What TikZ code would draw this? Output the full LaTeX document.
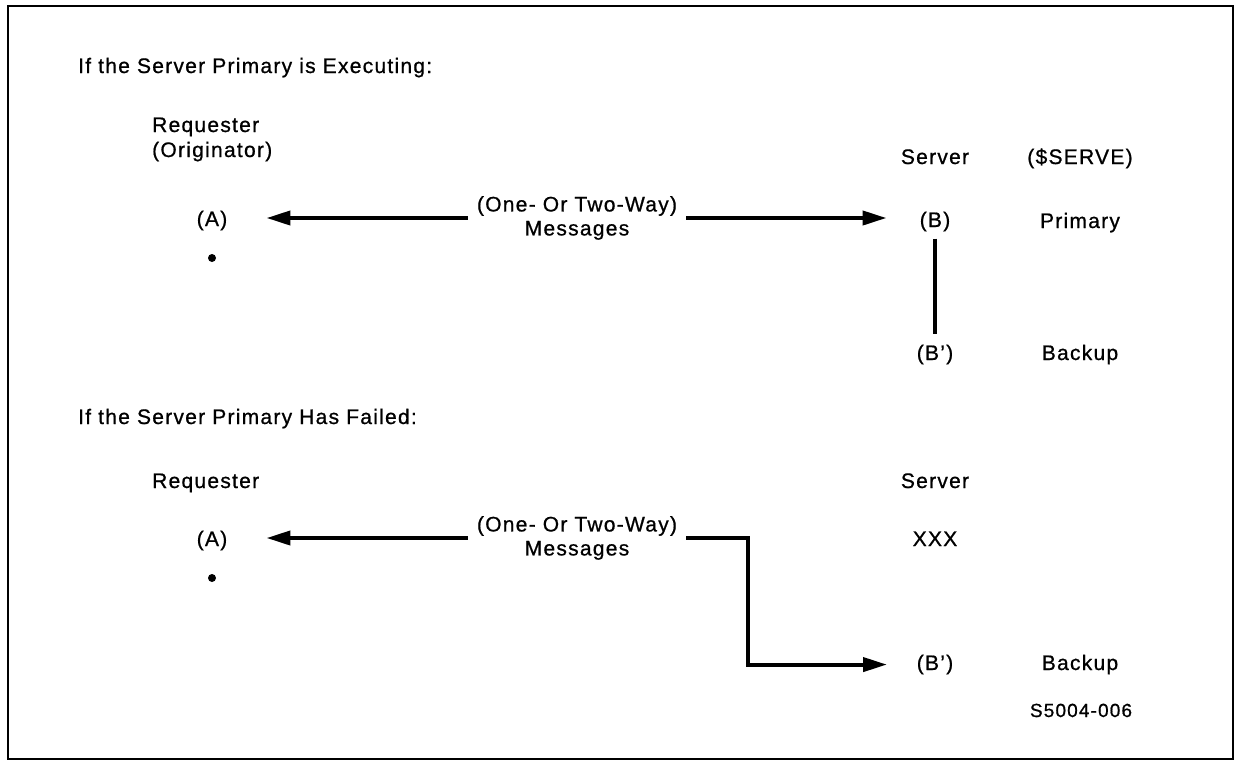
\documentclass[tikz,border=0pt]{standalone}
\usepackage{fontspec}
\setmainfont{Liberation Sans}[LetterSpace=6,FakeBold=0.8]
\usetikzlibrary{arrows.meta}

\tikzset{
  lbl/.style={inner sep=0pt, anchor=base, font=\fontsize{21}{25}\selectfont},
  msg/.style={inner sep=9pt, align=center, font=\fontsize{21}{24}\selectfont},
  flow/.style={line width=4pt, -{Triangle[length=24pt,width=14pt]}},
  pin/.style={circle, fill, inner sep=0pt, minimum size=8pt},
}

\begin{document}
\begin{tikzpicture}[x=1pt,y=-1pt]
    \useasboundingbox (0,0) rectangle (1236,761);
    % outer frame
    \draw[line width=2pt] (8,6) rectangle (1233,759);

    % primary running
    \node[lbl, anchor=base west] (head1) at (78,73) {If the Server Primary is Executing:};
    \node[lbl, anchor=base west] (req1) at (152,132) {Requester};
    \node[lbl, anchor=base west] (orig1) at (152,157) {(Originator)};
    \node[lbl] (srv1) at (935,164) {Server};
    \node[lbl] (serve) at (1080,164) {(\$SERVE)};
    \node[lbl] (A1) at (212,226) {(A)};
    \node[pin] (dot1) at (212,258) {};
    \node[msg] (msg1) at (577,218) {(One- Or Two-Way)\\Messages};
    \node[lbl] (B1) at (935,227) {(B)};
    \node[lbl] (prim) at (1080,228) {Primary};
    \node[lbl] (B2) at (935,360) {(B’)};
    \node[lbl] (bak1) at (1080,360) {Backup};

    \draw[flow, shorten >=39pt] (msg1.west) -- (msg1.west -| A1.east);
    \draw[flow, shorten >=33pt] (msg1.east) -- (msg1.east -| B1.west);
    \draw[line width=4.5pt, shorten <=17pt, shorten >=21pt] (B1.center) -- (B2.center);

    % primary failed
    \node[lbl, anchor=base west] (head2) at (78,424) {If the Server Primary Has Failed:};
    \node[lbl, anchor=base west] (req2) at (152,488) {Requester};
    \node[lbl] (srv2) at (935,488) {Server};
    \node[lbl] (A2) at (212,546) {(A)};
    \node[pin] (dot2) at (212,578) {};
    \node[msg] (msg2) at (577,538) {(One- Or Two-Way)\\Messages};
    \node[lbl] (xxx) at (935,546) {XXX};
    \node[lbl] (B3) at (935,670) {(B’)};
    \node[lbl] (bak2) at (1080,670) {Backup};
    \coordinate (bend) at (748,0);

    \draw[flow, shorten >=39pt] (msg2.west) -- (msg2.west -| A2.east);
    \draw[flow, shorten >=48pt] (msg2.east) -| (bend |- B3.center) -- (B3.center);

    \node[lbl, font=\fontsize{19}{22}\selectfont] (fig) at (1081,717) {S5004-006};
\end{tikzpicture}
\end{document}
